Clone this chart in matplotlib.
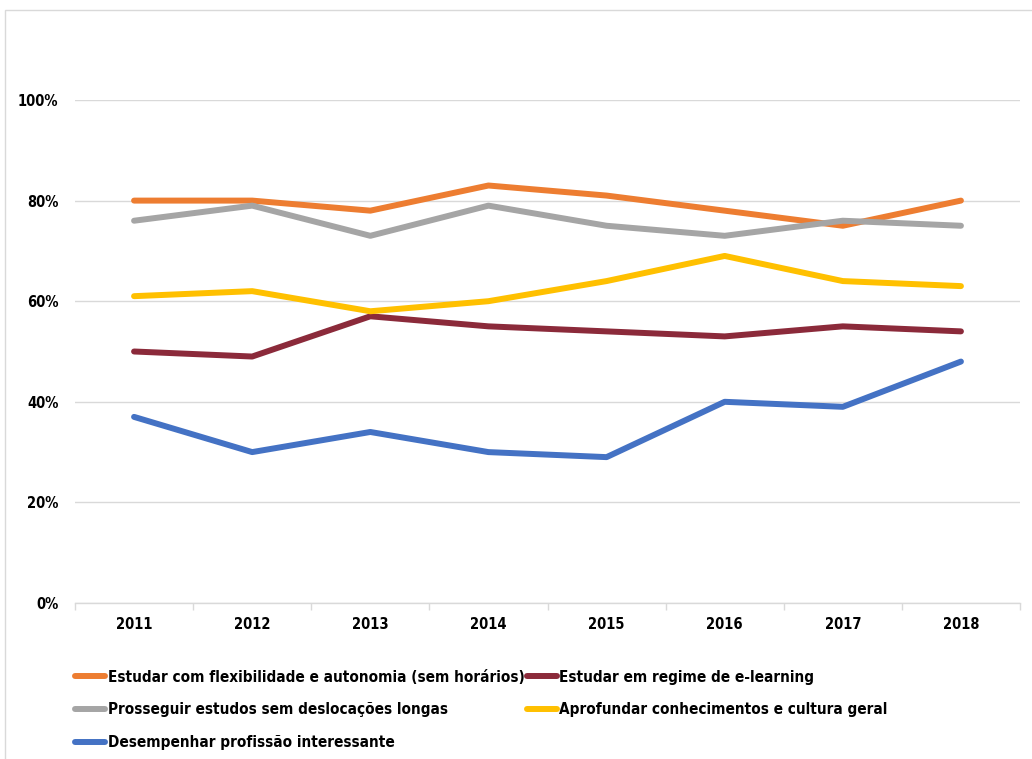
import matplotlib
matplotlib.use("Agg")
import matplotlib.pyplot as plt
from matplotlib.patches import Rectangle
from matplotlib.ticker import FixedLocator, PercentFormatter

years = ["2011", "2012", "2013", "2014", "2015", "2016", "2017", "2018"]
flexibilidade = [80, 80, 78, 83, 81, 78, 75, 80]
elearning = [50, 49, 57, 55, 54, 53, 55, 54]
deslocacoes = [76, 79, 73, 79, 75, 73, 76, 75]
conhecimentos = [61, 62, 58, 60, 64, 69, 64, 63]
profissao = [37, 30, 34, 30, 29, 40, 39, 48]

labels = [
    "Estudar com flexibilidade e autonomia (sem horários)",
    "Estudar em regime de e-learning",
    "Prosseguir estudos sem deslocações longas",
    "Aprofundar conhecimentos e cultura geral",
    "Desempenhar profissão interessante",
]
series = [flexibilidade, elearning, deslocacoes, conhecimentos, profissao]
colors = ["#ED7D31", "#8B2A3A", "#A5A5A5", "#FFC000", "#4472C4"]

plt.rcParams['font.family'] = ['DejaVu Sans']
plt.rcParams['font.stretch'] = 'condensed'

fig = plt.figure(figsize=(10.32, 7.59), dpi=100)
# outer chart frame
fig.patches.append(Rectangle((5 / 1032, -0.1), 1.2, 1 - 10 / 759 + 0.1,
                             transform=fig.transFigure, fill=False,
                             edgecolor="#D9D9D9", linewidth=1))

ax = fig.add_axes([75 / 1032, 1 - 603 / 759, 945 / 1032, 503 / 759])
x = list(range(len(years)))
handles = []
for vals, c, lab in zip(series, colors, labels):
    h, = ax.plot(x, [v / 100 for v in vals], color=c, linewidth=4.3,
                 solid_capstyle="round", solid_joinstyle="round", label=lab)
    handles.append(h)

ax.set_xlim(-0.5, len(years) - 0.5)
ax.set_ylim(0, 1.0)
ax.set_yticks([0, 0.2, 0.4, 0.6, 0.8, 1.0])
ax.yaxis.set_major_formatter(PercentFormatter(1.0, decimals=0))
ax.grid(axis="y", color="#D9D9D9", linewidth=1)
ax.set_axisbelow(True)
for s in ["top", "right", "left"]:
    ax.spines[s].set_visible(False)
ax.spines["bottom"].set_color("#D9D9D9")
ax.spines["bottom"].set_linewidth(1)
ax.spines["bottom"].set_zorder(0.5)

ax.set_xticks(x)
ax.set_xticklabels(years)
ax.xaxis.set_minor_locator(FixedLocator([i - 0.5 for i in range(len(years) + 1)]))
ax.tick_params(axis="x", which="major", length=0, pad=10, labelsize=10.5)
ax.tick_params(axis="x", which="minor", length=5, color="#D9D9D9", width=1)
ax.tick_params(axis="y", length=0, pad=12, labelsize=10.5)
for t in ax.get_xticklabels() + ax.get_yticklabels():
    t.set_fontweight("bold")

order = [0, 2, 4, 1, 3]
leg = fig.legend([handles[i] for i in order], [labels[i] for i in order],
                 ncol=2, loc="upper left",
                 bbox_to_anchor=(61 / 1032, 1 - 656 / 759),
                 frameon=False, handlelength=2.0, handletextpad=0.15,
                 columnspacing=0.15, labelspacing=1.15,
                 prop={"size": 11, "weight": "bold", "stretch": "condensed"})

fig.savefig("out.png", dpi=100)
